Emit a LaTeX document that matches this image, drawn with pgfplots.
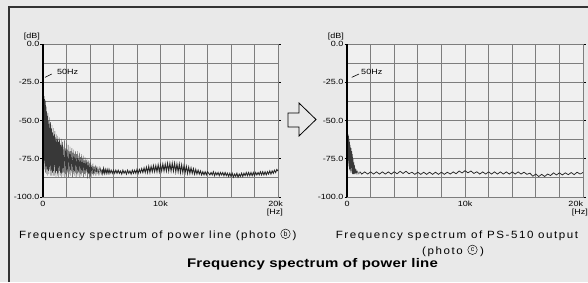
\documentclass[border=0pt]{standalone}
\usepackage{pgfplots}
\pgfplotsset{compat=1.18}
\usepackage{fontspec}
\setmainfont{Liberation Sans}
\definecolor{bgc}{RGB}{233,233,233}
\definecolor{plotbg}{RGB}{240,240,240}
\definecolor{gridc}{RGB}{125,125,125}
\newcommand{\tickfont}{\fontsize{7.5}{8}\selectfont\addfontfeature{FakeStretch=1.2}}
\newcommand{\capfont}{\fontsize{10.5}{12}\selectfont\addfontfeature{FakeStretch=1.1,LetterSpace=15}}
\newcommand{\capfontL}{\fontsize{10.5}{12}\selectfont\addfontfeature{FakeStretch=1.1,LetterSpace=13.5}}
\pgfplotsset{
  specax/.style={
    scale only axis, width=235pt, height=153pt, anchor=south west,
    xmin=0, xmax=20000, ymin=-100, ymax=0,
    axis background/.style={fill=plotbg},
    xtick={0,10000,20000},
    minor xtick={2000,4000,6000,8000,12000,14000,16000,18000},
    ytick={0,-25,-50,-75,-100}, yticklabels={0.0,-25.0,-50.0,-75.0,-100.0},
    minor ytick={-12.5,-37.5,-62.5,-87.5},
    grid=both,
    major grid style={gridc, line width=1pt},
    minor grid style={gridc, line width=1pt},
    axis line style={gridc, line width=1pt},
    xtick style={draw=none}, minor tick length=0pt,
    ytick style={black, line width=0.6pt}, major tick length=2.5pt, tick align=outside,
    ticklabel style={font=\tickfont},
    /pgf/number format/assume math mode=true,
    yticklabel style={inner sep=1pt},
    xticklabel style={inner sep=1.5pt},
    scaled x ticks=false,
    clip=false,
  }
}
\begin{document}
\begin{tikzpicture}[x=1pt,y=1pt]
\useasboundingbox (0,0) rectangle (588,282);
\fill[bgc] (0,0) rectangle (588,282);
\draw[black!80, line width=1.1pt] (9,0) -- (9,275) -- (588,275);
% arrow
\draw[black, line width=0.8pt, fill=bgc] (288,155) -- (299,155) -- (299,146) -- (316,162.5) -- (299,179) -- (299,169) -- (288,169) -- cycle;

\begin{axis}[specax, at={(43pt,85pt)}, xticklabels={0,10k,{\makebox[10pt][r]{20k}}}]
\addplot[black!78, line width=0.3pt] coordinates {
(0,-86) (20,-40) (35,-24) (50,-21) (65,-30) (80,-70) (100,-34) (120,-78) (140,-36) (160,-82)
(180,-40) (200,-84) (225,-37) (250,-80) (275,-44) (300,-85) (325,-41) (350,-82) (375,-47) (400,-86)
(425,-45) (450,-83) (475,-50) (500,-85) (530,-48) (560,-82) (590,-52) (620,-86) (650,-51) (680,-83)
(710,-55) (740,-86) (770,-53) (800,-84) (830,-58) (860,-86) (890,-55) (920,-83) (950,-59) (980,-86)
(1010,-57) (1040,-84) (1070,-61) (1100,-87) (1130,-59) (1160,-83) (1190,-62) (1220,-86) (1250,-60) (1280,-84)
(1310,-64) (1340,-87) (1370,-61) (1400,-83) (1430,-63) (1460,-86) (1490,-65) (1520,-84) (1550,-62) (1580,-87)
(1610,-66) (1640,-84) (1670,-64) (1700,-86) (1740,-67) (1780,-84) (1820,-63) (1860,-87) (1900,-68) (1940,-85)
(1980,-65) (2020,-86) (2060,-69) (2100,-84) (2140,-66) (2180,-87) (2220,-70) (2260,-85) (2300,-67) (2340,-86)
(2380,-70) (2420,-84) (2460,-68) (2500,-87) (2540,-71) (2580,-85) (2620,-69) (2660,-86) (2700,-72) (2740,-84)
(2780,-70) (2820,-87) (2860,-72) (2900,-85) (2940,-70) (2980,-86) (3020,-73) (3060,-84) (3100,-71) (3140,-87)
(3180,-74) (3220,-85) (3260,-72) (3300,-86) (3340,-75) (3380,-84) (3420,-73) (3460,-87) (3500,-76) (3540,-85)
(3580,-74) (3620,-86) (3660,-76) (3700,-84) (3740,-75) (3780,-88) (3820,-77) (3860,-85) (3900,-76) (3940,-88)
(3980,-78) (4020,-86) (4060,-77) (4100,-87) (4150,-79) (4200,-85) (4250,-78) (4300,-86) (4350,-80) (4400,-85)
(4450,-79) (4500,-86) (4550,-80) (4600,-85) (4660,-81) (4720,-85) (4780,-80) (4840,-85) (4900,-81) (4960,-85)
(5020,-82)
};
\addplot[black!85, line width=0.9pt] coordinates {
(5020,-82) (5080,-84.5) (5150,-81.5) (5220,-84.5) (5300,-82) (5380,-84.5) (5460,-82) (5540,-84.5) (5620,-82) (5700,-84.5)
(5800,-82.5) (5900,-84.5) (6000,-82.5) (6100,-84.5) (6200,-82.5) (6300,-84.5) (6400,-82.5) (6500,-84.5) (6600,-83) (6700,-85)
(6800,-82.5) (6900,-84.5) (7000,-83) (7100,-85) (7200,-82.5) (7300,-84.5) (7400,-83) (7500,-85) (7600,-82.5) (7700,-84.5)
(7800,-82.5) (7900,-84.5) (8000,-82) (8100,-84.5) (8200,-82) (8300,-84) (8400,-81.5) (8500,-84) (8600,-81) (8700,-84)
(8800,-80.5) (8900,-84) (9000,-80) (9100,-84) (9200,-80) (9300,-83.5) (9400,-79.5) (9500,-83.5) (9600,-79.5) (9700,-83.5)
(9800,-79) (9900,-83.5) (10000,-79) (10100,-83) (10200,-78.5) (10300,-83) (10400,-78.5) (10500,-83) (10600,-78) (10700,-83)
(10800,-78) (10900,-83) (11000,-78) (11100,-83) (11200,-78) (11300,-83.5) (11400,-78.5) (11500,-83.5) (11600,-78.5) (11700,-84)
(11800,-79) (11900,-84) (12000,-79.5) (12100,-84) (12200,-80) (12300,-84.5) (12400,-80.5) (12500,-84.5) (12600,-81) (12700,-84.5)
(12800,-81.5) (12900,-85) (13000,-82) (13100,-85) (13200,-82.5) (13300,-85) (13400,-83) (13500,-85.5) (13600,-83.5) (13700,-85.5)
(13800,-83.5) (13900,-85.5) (14000,-83.5) (14200,-85.5) (14300,-84) (14400,-85.5) (14500,-83.5) (14600,-86) (14700,-84) (14800,-85.5)
(14900,-84) (15000,-86) (15100,-84) (15200,-85.5) (15300,-84) (15400,-86) (15500,-84) (15600,-86) (15700,-84.5) (15800,-86.5)
(15900,-84.5) (16000,-86.5) (16100,-84.5) (16200,-87) (16300,-85) (16400,-86.5) (16500,-84.5) (16600,-87) (16700,-85) (16800,-86.5)
(16900,-84.5) (17000,-86.5) (17100,-84.5) (17200,-86) (17300,-84) (17400,-86) (17500,-84) (17600,-86) (17700,-84) (17800,-86)
(17900,-84) (18000,-86) (18100,-84) (18200,-85.5) (18300,-84) (18400,-85.5) (18500,-83.5) (18600,-85.5) (18700,-83.5) (18800,-85.5)
(18900,-83.5) (19000,-85.5) (19100,-83.5) (19200,-85) (19300,-83) (19400,-85) (19500,-83) (19600,-84.5) (19700,-82.5) (19800,-84)
(19900,-82) (20000,-83)
};
\draw[black, line width=1.1pt] (rel axis cs:0,0) -- (rel axis cs:0,1);
\draw[black, line width=0.6pt] (axis cs:170,-21.8) -- (axis cs:740,-19.6);
\node[anchor=west, inner sep=0pt, font=\tickfont] at (axis cs:1190,-18.3) {50Hz};
\node[anchor=south east, inner sep=0pt, font=\tickfont] at ([xshift=-3pt,yshift=4pt]rel axis cs:0,1) {[dB]};
\node[anchor=north east, inner sep=0pt, font=\tickfont] at ([xshift=5pt,yshift=-12pt]rel axis cs:1,0) {[Hz]};
\end{axis}

\begin{axis}[specax, width=236pt, at={(347pt,85pt)}, xticklabels={0,10k,{\makebox[0pt][r]{20k}}}]
\addplot[black!78, line width=0.3pt] coordinates {
(0,-86) (20,-70) (40,-62) (60,-60) (80,-75) (100,-59) (120,-78) (140,-60) (160,-80) (180,-62)
(200,-82) (230,-64) (260,-83) (290,-66) (320,-84) (350,-68) (380,-84) (410,-70) (440,-85) (470,-72)
(500,-85) (530,-75) (560,-85) (590,-77) (620,-85) (650,-79) (680,-85) (720,-81) (760,-85) (800,-82.5)
(850,-85) (900,-83) (1000,-85) (1100,-83.5)
};
\addplot[black!85, line width=0.75pt] coordinates {
(1100,-83.5)
(1250,-85) (1500,-83.6) (1750,-85) (2000,-83.6) (2250,-85) (2500,-83.6) (2750,-85) (3000,-83.6) (3250,-85) (3500,-83.6)
(3750,-85) (4000,-83.5) (4250,-84.8) (4500,-83.2) (4750,-84.6) (5000,-83.2) (5250,-84.8) (5500,-83.8) (5750,-85.2) (6000,-83.8)
(6250,-85.2) (6500,-83.8) (6750,-85.2) (7000,-83.8) (7250,-85.2) (7500,-83.8) (7750,-85.2) (8000,-83.8) (8250,-85.2) (8500,-83.8)
(8750,-85) (9000,-83.6) (9250,-84.8) (9500,-83) (9750,-84.3) (10000,-82.8) (10250,-84.2) (10500,-83) (10750,-84.6) (11000,-83.5)
(11250,-85) (11500,-83.6) (11750,-85) (12000,-83.6) (12250,-85) (12500,-83.6) (12750,-85) (13000,-83.6) (13250,-85) (13500,-83.6)
(13750,-85) (14000,-83.6) (14250,-85) (14500,-83.6) (14750,-85) (15000,-83.8) (15250,-85.2) (15500,-84.4) (15750,-86.4) (16000,-85)
(16250,-86.6) (16500,-85.2) (16750,-86.6) (17000,-85) (17250,-86) (17500,-84.2) (17750,-85.6) (18000,-84.2) (18250,-85.6) (18500,-84.2)
(18750,-85.4) (19000,-84) (19250,-85.4) (19500,-83.8) (19750,-85) (20000,-84)
};
\draw[black, line width=1.1pt] (rel axis cs:0,0) -- (rel axis cs:0,1);
\draw[black, line width=0.6pt] (axis cs:400,-21.8) -- (axis cs:1020,-19.6);
\node[anchor=west, inner sep=0pt, font=\tickfont] at (axis cs:1190,-18.3) {50Hz};
\node[anchor=south east, inner sep=0pt, font=\tickfont] at ([xshift=-3pt,yshift=4pt]rel axis cs:0,1) {[dB]};
\node[anchor=north east, inner sep=0pt, font=\tickfont] at ([xshift=5pt,yshift=-12pt]rel axis cs:1,0) {[Hz]};
\end{axis}

% captions (circled letters drawn as circle nodes)
\node[anchor=base east, inner sep=0pt, font=\capfontL] (capL) at (276,44) {Frequency spectrum of power line (photo};
\node[circle, draw=black, line width=0.45pt, inner sep=0pt, minimum size=9.5pt, font=\fontsize{7}{7}\selectfont] at (285.5,48.2) {b};
\node[anchor=base west, inner sep=0pt, font=\capfont] at (292.5,44) {)};

\node[anchor=base, inner sep=0pt, font=\capfont] at (457,44) {Frequency spectrum of PS-510 output};
\node[anchor=base east, inner sep=0pt, font=\capfont] at (463,28) {(photo};
\node[circle, draw=black, line width=0.45pt, inner sep=0pt, minimum size=9.5pt, font=\fontsize{7}{7}\selectfont] at (472.5,32.2) {c};
\node[anchor=base west, inner sep=0pt, font=\capfont] at (480,28) {)};

\node[anchor=base, inner sep=0pt, font={\fontsize{12.5}{14}\selectfont\bfseries\addfontfeature{FakeStretch=1.2,LetterSpace=2}}] at (312.5,14.5) {Frequency spectrum of power line};
\end{tikzpicture}
\end{document}
